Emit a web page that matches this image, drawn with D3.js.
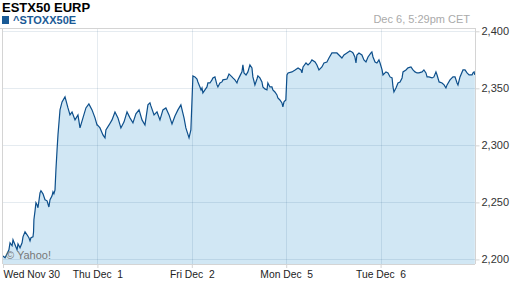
<!DOCTYPE html>
<html><head><meta charset="utf-8">
<script src="https://cdn.jsdelivr.net/npm/d3@7/dist/d3.min.js"></script>
<style>
html,body{margin:0;padding:0;background:#fff;}
svg{display:block;font-family:"Liberation Sans",Arial,sans-serif;}
</style></head>
<body><svg id="c" width="512" height="288"></svg>
<script>
const title = "ESTX50 EURP";
const symbol = "^STOXX50E";
const stamp = "Dec 6, 5:29pm CET";
const credit = "\u00A9 Yahoo!";
const dayLabels = ["Wed Nov 30", "Thu Dec  1", "Fri Dec  2", "Mon Dec  5", "Tue Dec  6"];
const yTicks = [2200, 2250, 2300, 2350, 2400];
const sessionMinutes = 510; // 09:00 - 17:30 CET

// [minutes since open, index level]
const wedNov30 = [[0,2203],[11,2201.5],[22,2205],[32,2208.5],[38,2214.6],[49,2212],[54,2217.2],[65,2212.8],[76,2208.5],[81,2213.7],[92,2210.2],[103,2214.6],[108,2219.8],[119,2224.2],[130,2221.6],[140,2219],[146,2216.3],[151,2219],[162,2219.8],[165,2224],[167,2234.8],[173,2242.6],[178,2249.7],[184,2247.9],[189,2245.3],[200,2258.4],[205,2260.2],[216,2257.5],[227,2252.3],[238,2251.4],[248,2246],[254,2252.3],[265,2255.8],[270,2259.3],[275,2257.5],[281,2261],[286,2278.6],[292,2296],[297,2309.2],[308,2331.1],[319,2338.1],[335,2342.5],[351,2332.8],[362,2326.7],[373,2329.3],[389,2322.3],[405,2326.7],[416,2315.3],[432,2324.1],[448,2332.8],[464,2336.3],[481,2331.1],[497,2324.1],[508,2317.9]];
const thuDec1 = [[0,2318],[14,2315.3],[30,2309.2],[41,2306.6],[46,2313.6],[63,2317.9],[79,2322.3],[95,2329.3],[111,2324.1],[127,2315.3],[144,2320.6],[160,2329.3],[176,2324.1],[192,2319.7],[208,2327.6],[225,2331.1],[241,2322.3],[257,2317.9],[273,2335.5],[284,2337.2],[289,2334.6],[306,2326.7],[322,2329.3],[338,2322.3],[354,2331.1],[370,2332.8],[387,2326.7],[403,2318.8],[419,2325.8],[435,2331.1],[451,2335.5],[468,2324.1],[478,2315.3],[495,2306.6],[505,2313.6]];
const friDec2 = [[6,2360.9],[17,2360],[28,2358.2],[33,2355.6],[44,2351.2],[50,2348.6],[55,2350.3],[60,2346],[71,2348.6],[82,2351.2],[87,2354.7],[98,2354.7],[109,2357.4],[114,2359.1],[125,2360],[136,2353],[141,2351.2],[152,2354.7],[163,2355.6],[168,2357.4],[190,2358.2],[201,2362.6],[217,2360],[222,2359.1],[233,2357.4],[244,2354.7],[249,2357.4],[260,2360.9],[271,2364.4],[276,2370.5],[282,2363.5],[293,2361.7],[303,2364.4],[314,2370.5],[325,2367.9],[330,2360],[341,2353],[352,2358.2],[357,2360.9],[368,2359.1],[379,2355.6],[384,2351.2],[395,2349.5],[406,2348.6],[411,2354.7],[422,2351.2],[433,2351.2],[438,2348.6],[449,2346.8],[460,2344.2],[465,2341.6],[476,2339.8],[487,2337.2],[492,2333.7],[498,2338.1],[508,2339.8]];
const monDec5 = [[4,2361.7],[10,2363.5],[31,2364.4],[48,2366.1],[64,2367.9],[80,2366.1],[85,2363.5],[91,2368.7],[107,2372.2],[118,2370.5],[129,2372.2],[139,2374.9],[156,2373.1],[166,2370.5],[177,2366.1],[193,2368.7],[204,2372.2],[220,2373.1],[231,2376.6],[247,2381],[264,2381],[274,2381],[285,2379.2],[301,2376.6],[312,2379.2],[328,2381],[344,2382.7],[355,2381.9],[361,2381],[371,2377.5],[377,2372.2],[382,2379.2],[393,2381],[409,2379.2],[420,2374.9],[431,2373.1],[442,2377.5],[458,2381],[463,2381.9],[469,2377.5],[480,2373.1],[490,2372.2],[501,2374.9],[507,2372.2]];
const tueDec6 = [[8,2366.1],[13,2361.7],[29,2364.4],[40,2363.5],[51,2360],[62,2359.1],[67,2351.2],[72,2346.8],[83,2350.3],[94,2354.7],[105,2355.6],[116,2359.1],[121,2364.4],[137,2366.1],[148,2367.9],[164,2368.7],[175,2366.1],[186,2364.4],[197,2363.5],[207,2363.5],[224,2364.4],[234,2366.1],[245,2363.5],[251,2360],[261,2360],[278,2359.1],[288,2360],[299,2364.4],[305,2361.7],[316,2355.6],[332,2354.7],[343,2353],[353,2350.3],[359,2353],[375,2357.4],[391,2360],[402,2360],[413,2354.7],[418,2353],[429,2360],[445,2366.1],[456,2366.1],[467,2363.5],[478,2361.7],[494,2361.7],[499,2363.5],[505,2364.4],[509,2361.7]];

const days = [wedNov30, thuDec1, friDec2, monDec5, tueDec6];
const data = days.flatMap((d, i) => d.map(([m, v]) => ({t: i + m / sessionMinutes, v})));

const svg = d3.select("#c");
const L = 3, R = 475, T = 29, B = 264;
const x = d3.scaleLinear().domain([0, days.length]).range([L, R]);
const y = d3.scaleLinear().domain([2196, 2402]).range([B, T]);

// header
svg.append("text").attr("x", 2).attr("y", 12).attr("font-size", 13).attr("font-weight", "bold")
  .attr("fill", "#000").text(title);
svg.append("rect").attr("x", 2).attr("y", 16).attr("width", 7).attr("height", 8).attr("fill", "#1a5a96");
svg.append("text").attr("x", 13).attr("y", 24).attr("font-size", 11).attr("font-weight", "bold")
  .attr("fill", "#1a5a96").text(symbol);
svg.append("text").attr("x", 470).attr("y", 23).attr("font-size", 11).attr("text-anchor", "end")
  .attr("fill", "#aaaaaa").text(stamp);

// area
svg.append("path").datum(data)
  .attr("d", d3.area().x(d => x(d.t)).y0(B).y1(d => y(d.v)))
  .attr("fill", "#d1e7f4");

// gridlines
const grid = svg.append("g").attr("stroke", "rgba(0,60,110,0.10)").attr("shape-rendering", "crispEdges");
grid.selectAll("line.h").data(yTicks).join("line")
  .attr("x1", L).attr("x2", R).attr("y1", d => Math.round(y(d)) + 0.5).attr("y2", d => Math.round(y(d)) + 0.5);
grid.selectAll("line.v").data(d3.range(1, days.length)).join("line")
  .attr("x1", d => Math.round(x(d)) + 0.5).attr("x2", d => Math.round(x(d)) + 0.5).attr("y1", T).attr("y2", B);

// line
svg.append("path").datum(data)
  .attr("d", d3.line().x(d => x(d.t)).y(d => y(d.v)))
  .attr("fill", "none").attr("stroke", "#0d4f8b").attr("stroke-width", 1.2).attr("stroke-linejoin", "miter");

// frame
const frame = svg.append("g").attr("stroke", "#d4d4d4").attr("shape-rendering", "crispEdges");
frame.append("line").attr("x1", 0).attr("x2", R + 0.5).attr("y1", T - 0.5).attr("y2", T - 0.5);
frame.append("line").attr("x1", L - 0.5).attr("x2", L - 0.5).attr("y1", T).attr("y2", B);
frame.append("line").attr("x1", L).attr("x2", R).attr("y1", B + 0.5).attr("y2", B + 0.5);

// right axis
const yAxis = svg.append("g").attr("transform", `translate(${R + 0.5},0)`)
  .call(d3.axisRight(y).tickValues(yTicks).tickFormat(d3.format(",")).tickSize(4).tickPadding(2));
yAxis.select(".domain").attr("stroke", "#d4d4d4").attr("d", `M0,${T}V${B}`);
yAxis.selectAll(".tick line").attr("stroke", "#d4d4d4");
yAxis.selectAll(".tick text").attr("font-size", 11).attr("fill", "#333").attr("font-family", "Liberation Sans, Arial, sans-serif");

// bottom axis
const xAxis = svg.append("g").attr("transform", `translate(0,${B})`)
  .call(d3.axisBottom(x).tickValues(d3.range(0, days.length)).tickFormat(i => dayLabels[i]).tickSize(4).tickPadding(3));
xAxis.select(".domain").remove();
xAxis.selectAll(".tick line").attr("stroke", "#d4d4d4");
xAxis.selectAll(".tick text").attr("font-size", 10.3).attr("fill", "#222")
  .attr("font-family", "Liberation Sans, Arial, sans-serif").style("white-space", "pre")
  .attr("text-anchor", (d, i) => i === 0 ? "start" : "middle");

// credit
svg.append("text").attr("x", 6).attr("y", 259).attr("font-size", 11).attr("fill", "#777").text(credit);
</script></body></html>
